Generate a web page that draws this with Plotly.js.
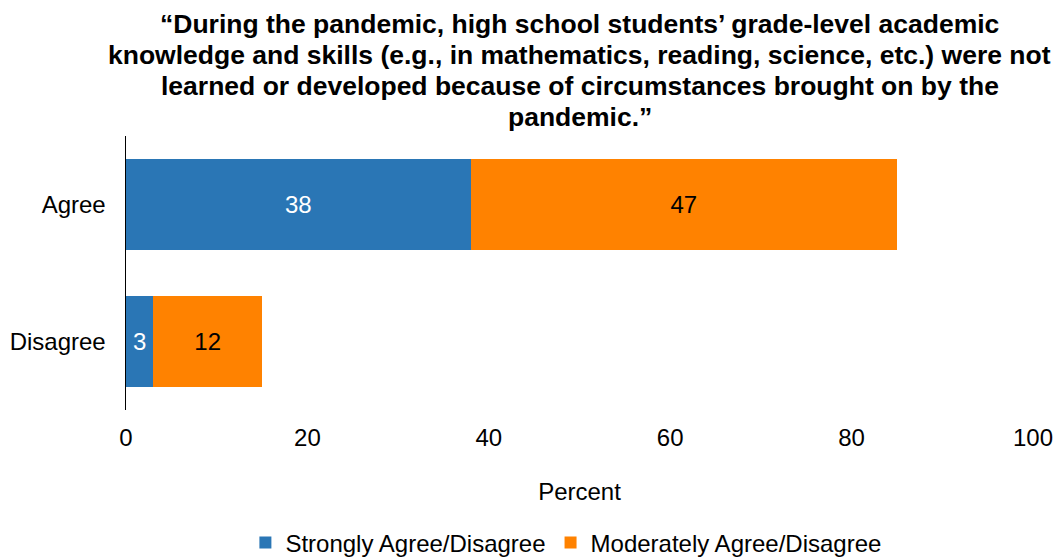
<!DOCTYPE html>
<html>
<head>
<meta charset="utf-8">
<script src="https://cdn.plot.ly/plotly-3.0.1.min.js"></script>
<style>html,body{margin:0;padding:0;background:#fff;}#chart{width:1057px;height:560px;}</style>
</head>
<body>
<div id="chart"></div>
<script>
const categories = ["Agree", "Disagree"];
const strongly = [38, 3];
const moderately = [47, 12];
const seriesNames = ["Strongly Agree/Disagree", "Moderately Agree/Disagree"];
const titleLines = [
  "“During the pandemic, high school students’ grade-level academic",
  "knowledge and skills (e.g., in mathematics, reading, science, etc.) were not",
  "learned or developed because of circumstances brought on by the",
  "pandemic.”"
];
const xTicks = [0, 20, 40, 60, 80, 100];

const FONT = "Liberation Sans, Arial, sans-serif";
const FS = 24;

const traces = [
  {
    type: "bar", orientation: "h", name: seriesNames[0],
    y: categories, x: strongly,
    marker: {color: "#2A76B5"},
    text: strongly.map(String), textposition: "inside", insidetextanchor: "middle",
    textfont: {color: "#ffffff", size: FS, family: FONT},
    hoverinfo: "none"
  },
  {
    type: "bar", orientation: "h", name: seriesNames[1],
    y: categories, x: moderately,
    marker: {color: "#FF8200"},
    text: moderately.map(String), textposition: "inside", insidetextanchor: "middle",
    textfont: {color: "#000000", size: FS, family: FONT},
    hoverinfo: "none"
  }
];

const titleCenters = [24, 55, 86, 117];
const annotations = titleLines.map((t, i) => ({
  text: "<b>" + t + "</b>",
  xref: "paper", x: 0.5, xanchor: "center",
  yref: "paper", y: 1 + (136 - titleCenters[i]) / 274, yanchor: "middle",
  showarrow: false,
  font: {family: FONT, size: 26.5, color: "#000"}
}));

const layout = {
  width: 1057, height: 560,
  paper_bgcolor: "#ffffff", plot_bgcolor: "#ffffff",
  font: {family: FONT, size: FS, color: "#000"},
  barmode: "stack",
  bargap: 0.34,
  margin: {l: 126, r: 24, t: 136, b: 150},
  annotations: annotations,
  xaxis: {
    range: [0, 100], tickvals: xTicks,
    showgrid: false, zeroline: false, showline: false,
    ticks: "outside", ticklen: 6, tickcolor: "rgba(0,0,0,0)",
    tickfont: {size: FS, family: FONT},
    title: {text: "Percent", font: {size: FS, family: FONT}, standoff: 33},
    fixedrange: true
  },
  yaxis: {
    autorange: "reversed",
    showgrid: false, zeroline: false,
    showline: true, linecolor: "#000", linewidth: 1.5,
    ticks: "outside", ticklen: 14, tickcolor: "rgba(0,0,0,0)",
    tickfont: {size: FS, family: FONT},
    fixedrange: true
  },
  legend: {
    orientation: "h", x: 0.485, xanchor: "center", xref: "paper",
    y: 1 - 543 / 560, yanchor: "middle", yref: "container",
    font: {size: FS, family: FONT},
    traceorder: "normal"
  },
  showlegend: true
};

Plotly.newPlot("chart", traces, layout, {displayModeBar: false, staticPlot: true});
</script>
</body>
</html>
